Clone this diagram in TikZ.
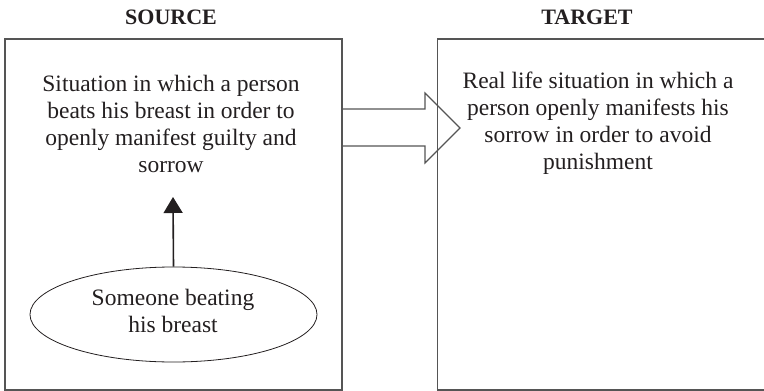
\documentclass[tikz,border=0pt]{standalone}
\usepackage{fontspec}
\setmainfont{Liberation Serif}
\usetikzlibrary{shapes.geometric,arrows.meta}
\definecolor{frame}{HTML}{555555}
\definecolor{ink}{HTML}{231F20}
\begin{document}
\begin{tikzpicture}[x=1pt,y=-1pt,
  panel/.style={draw=frame,line width=1.2pt,rectangle,inner sep=0pt},
  heading/.style={font=\fontsize{22}{26}\selectfont\bfseries,text=ink},
  body/.style={font=\fontsize{23.5}{27}\selectfont,text=ink,align=center},
  bubble/.style={draw=ink,line width=0.8pt,ellipse,inner sep=0pt,minimum width=287pt,minimum height=95pt}]
  \useasboundingbox (0,0) rectangle (764,391);
  \clip (0,0) rectangle (764,391);

  % headings
  \node[heading] (hsrc) at (171,17) {SOURCE};
  \node[heading] (htgt) at (587,17) {TARGET};

  % the two domain panels
  \node[panel,minimum width=337pt,minimum height=351pt] (src) at (173.5,214.5) {};
  \node[panel,minimum width=360pt,minimum height=351pt,anchor=west] (tgt) at (437,214.5) {};

  % panel texts
  \node[body] (srctext) at (171,123.5) {Situation in which a person\\beats his breast in order to\\openly manifest guilty and\\sorrow};
  \node[body] (tgttext) at (598,123) {Real life situation in which a\\person openly manifests his\\sorrow in order to avoid\\punishment};

  % source image
  \node[bubble] (img) at (173.5,314.5) {};
  \node[body] (imgtext) at (173,311) {Someone beating\\his breast};

  % vertical arrow from the image to the source situation
  \coordinate (tip) at (173,197);
  \draw[draw=ink,line width=1.6pt,-{Triangle[length=16pt,width=19pt]}] (img.north) -- (tip);

  % outlined block arrow from source to target
  \coordinate (s1) at (src.east |- 0,109);
  \coordinate (s2) at (src.east |- 0,146);
  \draw[draw=frame,line width=1.1pt,line join=miter]
    (s1) -- (425,109) -- (425,93) -- (460,128) -- (425,163) -- (425,146) -- (s2);
\end{tikzpicture}
\end{document}
